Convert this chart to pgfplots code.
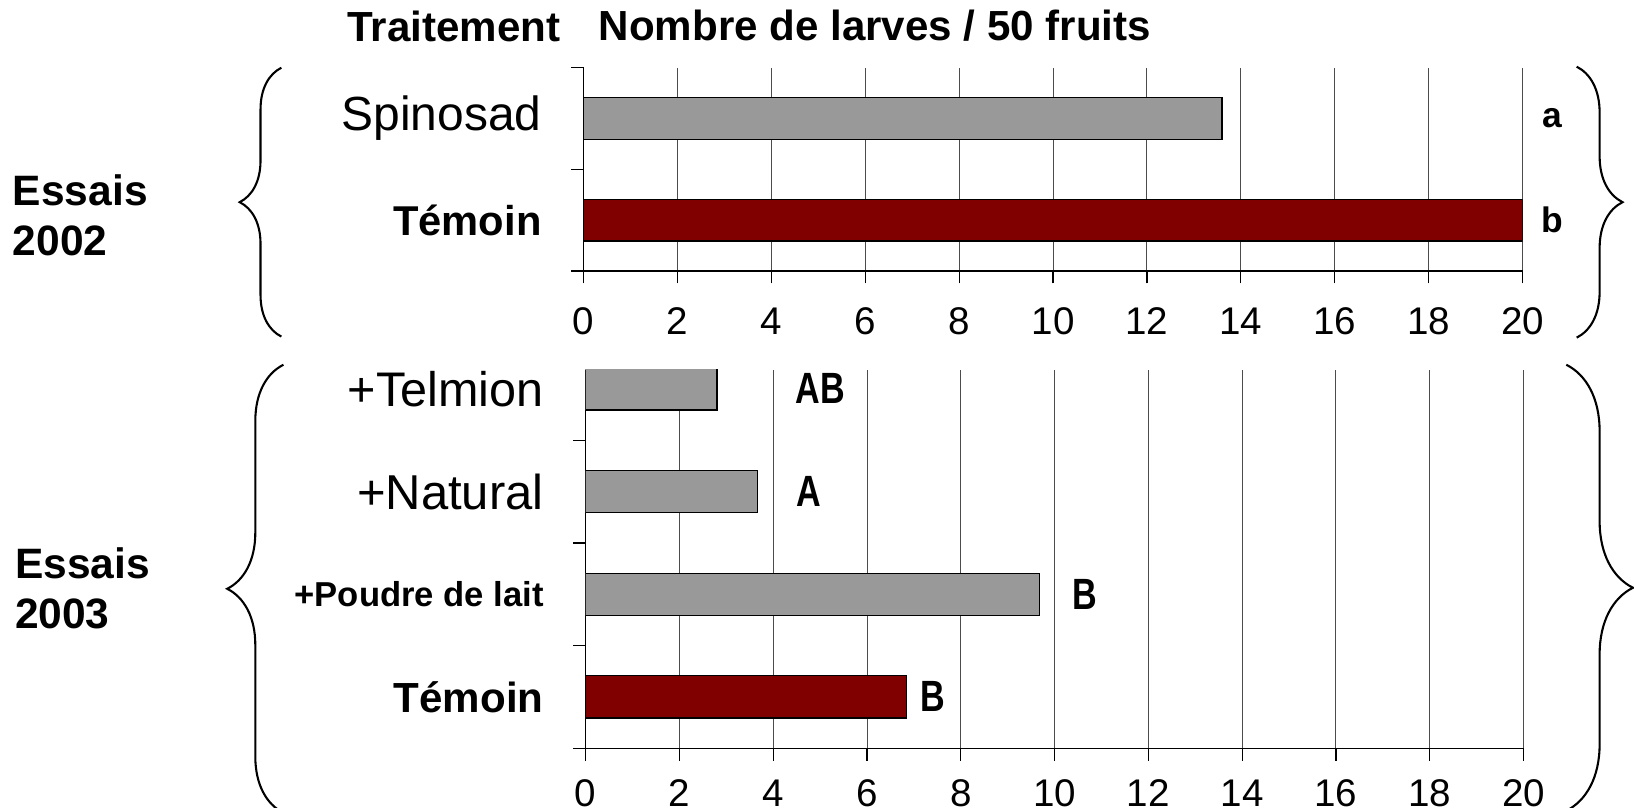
\documentclass[border=0pt]{standalone}
\usepackage{fontspec}
\setmainfont{Liberation Sans}
\usepackage{pgfplots}
\pgfplotsset{compat=1.18}
\usetikzlibrary{decorations.pathreplacing}
\definecolor{bargray}{RGB}{153,153,153}
\definecolor{barred}{RGB}{128,0,0}
\begin{document}
\begin{tikzpicture}
\useasboundingbox (0,0) rectangle (784pt,-387.5pt);
\pgfplotsset{
  common/.style={
    scale only axis, enlargelimits=false, clip mode=individual,
    xmin=0, xmax=20, xtick={0,2,...,20},
    axis x line*=bottom, axis y line*=left, tick align=outside,
    xmajorgrids, major grid style={black!70, line width=0.5pt},
    axis line style={line width=0.6pt},
    major tick length=6pt, minor tick length=6pt,
    major y tick style={draw=none},
    minor tick style={black, line width=0.6pt},
    xtick style={black, line width=0.6pt},
    /pgf/number format/assume math mode=true,
    xticklabel style={font=\fontsize{18.5}{22}\selectfont},
    yticklabel style={anchor=east, inner sep=0pt, xshift=-14pt},
  },
  bstyle/.style={xbar, bar width=0.41, draw=black, line width=0.6pt},
}
% titles
\node[font=\fontsize{20.2}{24}\selectfont\bfseries] at (217.75pt,-12.5pt) {Traitement};
\node[font=\fontsize{20.2}{24}\selectfont\bfseries] at (419.75pt,-12.5pt) {Nombre de larves / 50 fruits};
% top axis
\begin{axis}[common, at={(280pt,-130pt)}, anchor=south west,
  width=450.5pt, height=97.5pt, ymin=-0.5, ymax=1.5,
  ytick={0,1}, minor ytick={-0.5,0.5,1.5},
  yticklabels={{\fontsize{20}{24}\selectfont\bfseries Témoin},{\fontsize{23}{27}\selectfont Spinosad}},
  xticklabel style={yshift=-8pt}]
\addplot[bstyle, fill=bargray] coordinates {(13.6,1)};
\addplot[bstyle, fill=barred] coordinates {(20,0)};
\node[font=\fontsize{17}{20}\selectfont\bfseries] at (axis cs:20.64,1) {a};
\node[font=\fontsize{17}{20}\selectfont\bfseries] at (axis cs:20.64,0) {b};
\end{axis}
% bottom axis
\begin{axis}[common, at={(281pt,-359pt)}, anchor=south west,
  width=450pt, height=181.5pt, ymin=-0.5, ymax=3.185,
  ytick={0,1,2,3}, minor ytick={-0.5,0.5,1.5,2.5},
  yticklabels={{\fontsize{20.2}{24}\selectfont\bfseries Témoin},{\fontsize{16.6}{20}\selectfont\bfseries +Poudre de lait},{\fontsize{23.5}{27}\selectfont +Natural},{\fontsize{23.3}{27}\selectfont +Telmion}},
  xticklabel style={yshift=-5.5pt}]
\addplot[bstyle, fill=bargray] coordinates {(9.67,1) (3.67,2) (2.8,3)};
\addplot[bstyle, fill=barred] coordinates {(6.84,0)};
\node[font=\fontsize{21}{24}\selectfont\bfseries] at (axis cs:5.0,3) {\scalebox{0.78}[1]{AB}};
\node[font=\fontsize{21}{24}\selectfont\bfseries] at (axis cs:4.76,2) {\scalebox{0.78}[1]{A}};
\node[font=\fontsize{21}{24}\selectfont\bfseries] at (axis cs:10.64,1) {\scalebox{0.78}[1]{B}};
\node[font=\fontsize{21}{24}\selectfont\bfseries] at (axis cs:7.4,0) {\scalebox{0.78}[1]{B}};
\end{axis}
% group labels
\node[anchor=west, align=left, inner sep=0pt, font=\fontsize{20.4}{24}\selectfont\bfseries] at (6pt,-103.5pt) {Essais\\2002};
\node[anchor=west, align=left, inner sep=0pt, font=\fontsize{20.4}{24}\selectfont\bfseries] at (7pt,-282.5pt) {Essais\\2003};
% braces
\draw[line width=1pt, decorate, decoration={brace, amplitude=20pt}] (135pt,-161.5pt) -- (135pt,-32.5pt);
\draw[line width=1pt, decorate, decoration={brace, amplitude=22pt}] (756.5pt,-32pt) -- (756.5pt,-162pt);
\draw[line width=1pt, decorate, decoration={brace, amplitude=27pt}] (136pt,-390pt) -- (136pt,-175pt);
\draw[line width=1pt, decorate, decoration={brace, amplitude=32pt}] (751.5pt,-175pt) -- (751.5pt,-389pt);
\end{tikzpicture}
\end{document}
